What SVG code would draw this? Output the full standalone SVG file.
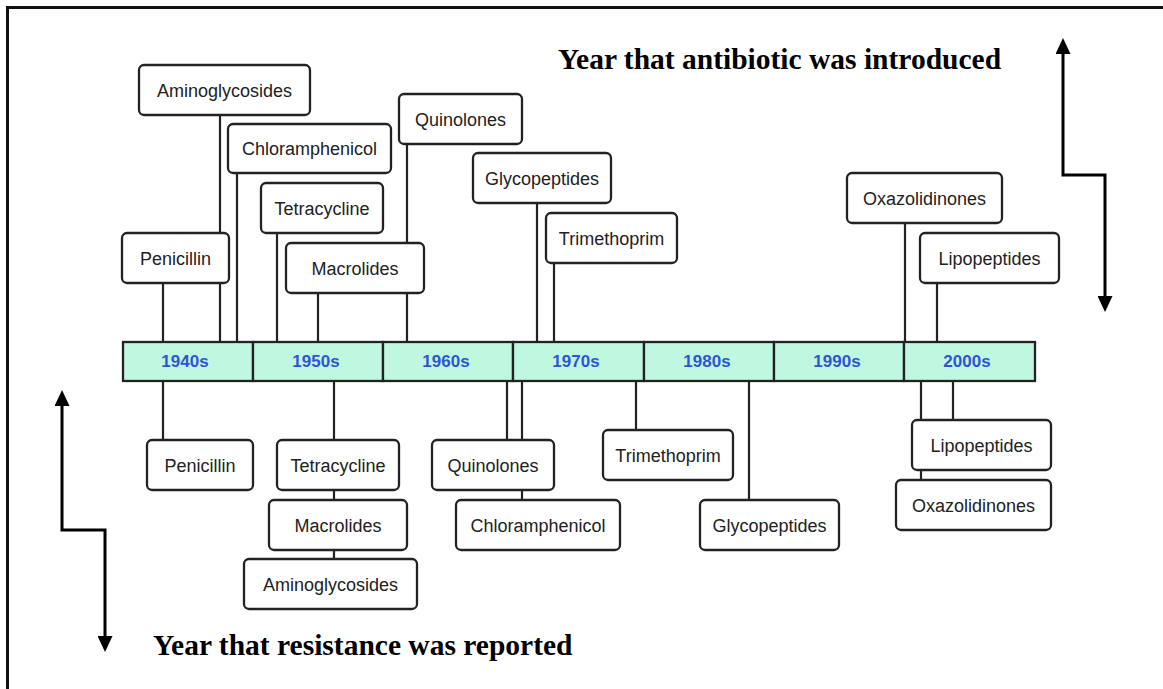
<svg xmlns="http://www.w3.org/2000/svg" width="1163" height="689" viewBox="0 0 1163 689">
<style>
.box{fill:#fff;stroke:#222;stroke-width:2.3}
.lbl{font-family:"Liberation Sans",Arial,sans-serif;font-size:18px;fill:#222;text-anchor:middle}
.yr{font-family:"Liberation Sans",Arial,sans-serif;font-size:17px;font-weight:bold;fill:#2f55d4;text-anchor:middle}
.seg{fill:#bff7e0;stroke:#222;stroke-width:2.3}
.stem{stroke:#222;stroke-width:2.2;fill:none}
.arr{stroke:#000;stroke-width:3;fill:none;marker-start:url(#ah);marker-end:url(#ah)}
.title{font-family:"Liberation Serif","Times New Roman",serif;font-size:29.5px;font-weight:bold;fill:#000}
</style>
<defs>
<marker id="ah" viewBox="0 0 16 15" refX="6" refY="7.5" markerWidth="16" markerHeight="15" markerUnits="userSpaceOnUse" orient="auto-start-reverse">
<path d="M0,0 L16,7.5 L0,15 z" fill="#000"/>
</marker>
</defs>
<rect width="1163" height="689" fill="#fff"/>
<path d="M7.5,689 V7.5 H1163" fill="none" stroke="#111" stroke-width="3"/>
<g id="connectors">
<path class="stem" d="M220,115 V342 M237,173 V342 M277,233 V342 M163,283 V342 M318,293 V342 M407,144 V342 M537,203 V342 M554,263 V342 M905,223 V342 M937,283 V342"/>
<path class="stem" d="M163,381 V440 M334,381 V559 M507,381 V440 M522,381 V500 M636,381 V430 M749,381 V500 M921,381 V480 M953,381 V420"/>
<path class="arr" d="M1063,48 V175 H1105 V302"/>
<path class="arr" d="M62,400 V530 H105 V642"/>
</g>
<g id="timeline">
<rect class="seg" x="123" y="342" width="130" height="39"/>
<rect class="seg" x="253" y="342" width="130" height="39"/>
<rect class="seg" x="383" y="342" width="130" height="39"/>
<rect class="seg" x="513" y="342" width="131" height="39"/>
<rect class="seg" x="644" y="342" width="130" height="39"/>
<rect class="seg" x="774" y="342" width="130" height="39"/>
<rect class="seg" x="904" y="342" width="131" height="39"/>
<text class="yr" x="185" y="367">1940s</text>
<text class="yr" x="316" y="367">1950s</text>
<text class="yr" x="446" y="367">1960s</text>
<text class="yr" x="576" y="367">1970s</text>
<text class="yr" x="707" y="367">1980s</text>
<text class="yr" x="837" y="367">1990s</text>
<text class="yr" x="967" y="367">2000s</text>
</g>
<g id="intro-aminoglycosides"><rect class="box" x="139" y="65" width="171" height="50" rx="5"/><text class="lbl" x="224.5" y="97">Aminoglycosides</text></g>
<g id="intro-chloramphenicol"><rect class="box" x="228" y="124" width="163" height="49" rx="5"/><text class="lbl" x="309.5" y="155">Chloramphenicol</text></g>
<g id="intro-tetracycline"><rect class="box" x="261" y="183" width="122" height="50" rx="5"/><text class="lbl" x="322" y="215">Tetracycline</text></g>
<g id="intro-penicillin"><rect class="box" x="122" y="233" width="107" height="50" rx="5"/><text class="lbl" x="175.5" y="265">Penicillin</text></g>
<g id="intro-macrolides"><rect class="box" x="286" y="243" width="138" height="50" rx="5"/><text class="lbl" x="355" y="275">Macrolides</text></g>
<g id="intro-quinolones"><rect class="box" x="399" y="94" width="123" height="50" rx="5"/><text class="lbl" x="460.5" y="126">Quinolones</text></g>
<g id="intro-glycopeptides"><rect class="box" x="473" y="153" width="138" height="50" rx="5"/><text class="lbl" x="542" y="185">Glycopeptides</text></g>
<g id="intro-trimethoprim"><rect class="box" x="546" y="213" width="131" height="50" rx="5"/><text class="lbl" x="611.5" y="245">Trimethoprim</text></g>
<g id="intro-oxazolidinones"><rect class="box" x="847" y="173" width="155" height="50" rx="5"/><text class="lbl" x="924.5" y="205">Oxazolidinones</text></g>
<g id="intro-lipopeptides"><rect class="box" x="920" y="233" width="139" height="50" rx="5"/><text class="lbl" x="989.5" y="265">Lipopeptides</text></g>
<g id="res-penicillin"><rect class="box" x="147" y="440" width="106" height="50" rx="5"/><text class="lbl" x="200" y="472">Penicillin</text></g>
<g id="res-tetracycline"><rect class="box" x="277" y="440" width="122" height="50" rx="5"/><text class="lbl" x="338" y="472">Tetracycline</text></g>
<g id="res-macrolides"><rect class="box" x="269" y="500" width="138" height="50" rx="5"/><text class="lbl" x="338" y="532">Macrolides</text></g>
<g id="res-aminoglycosides"><rect class="box" x="244" y="559" width="173" height="50" rx="5"/><text class="lbl" x="330.5" y="591">Aminoglycosides</text></g>
<g id="res-quinolones"><rect class="box" x="432" y="440" width="122" height="50" rx="5"/><text class="lbl" x="493" y="472">Quinolones</text></g>
<g id="res-chloramphenicol"><rect class="box" x="456" y="500" width="164" height="50" rx="5"/><text class="lbl" x="538" y="532">Chloramphenicol</text></g>
<g id="res-trimethoprim"><rect class="box" x="603" y="430" width="130" height="50" rx="5"/><text class="lbl" x="668" y="462">Trimethoprim</text></g>
<g id="res-glycopeptides"><rect class="box" x="700" y="500" width="139" height="50" rx="5"/><text class="lbl" x="769.5" y="532">Glycopeptides</text></g>
<g id="res-lipopeptides"><rect class="box" x="912" y="420" width="139" height="50" rx="5"/><text class="lbl" x="981.5" y="452">Lipopeptides</text></g>
<g id="res-oxazolidinones"><rect class="box" x="896" y="480" width="155" height="50" rx="5"/><text class="lbl" x="973.5" y="512">Oxazolidinones</text></g>
<text class="title" x="558" y="69">Year that antibiotic was introduced</text>
<text class="title" x="153" y="655">Year that resistance was reported</text>
</svg>
